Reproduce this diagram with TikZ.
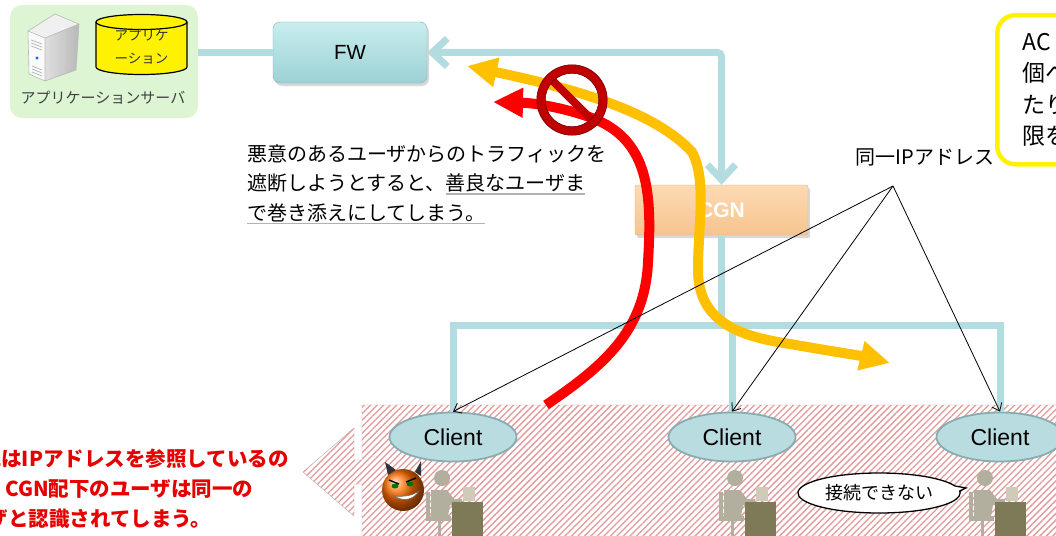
\documentclass[tikz,border=0pt]{standalone}
\usepackage{fontspec}
\setmainfont{Liberation Sans}
\newfontfamily\jp{Noto Sans CJK JP}
\usepackage{tikz}
\usetikzlibrary{arrows.meta, positioning, shapes.geometric, shapes.callouts, shadows, patterns.meta, calc}

% colours
\definecolor{linkblue}{HTML}{B3DCE0}
\definecolor{fwtop}{HTML}{C8EDEF}
\definecolor{fwbot}{HTML}{9CD2D5}
\definecolor{fwline}{HTML}{80B5B8}
\definecolor{cgntop}{HTML}{FCDAB4}
\definecolor{cgnbot}{HTML}{F7C48E}
\definecolor{cgnline}{HTML}{E2B27E}
\definecolor{groupgreen}{HTML}{DDF5D3}
\definecolor{clientfill}{HTML}{B9DCE0}
\definecolor{clientline}{HTML}{88ADB1}
\definecolor{flowred}{HTML}{FF0000}
\definecolor{flowyellow}{HTML}{FFC000}
\definecolor{stopred}{HTML}{C00000}
\definecolor{warnred}{HTML}{E60000}
\definecolor{hatchred}{HTML}{E39A9A}
\definecolor{hatchline}{HTML}{C9A5A5}
\definecolor{figgray}{HTML}{B2AF9E}
\definecolor{deskolive}{HTML}{7E7957}
\definecolor{screengray}{HTML}{CFCBB8}

% gray underline used in the note
\newcommand{\grayul}[1]{\setbox0\hbox{#1}\rlap{\textcolor{gray!60}{\rule[-4pt]{\wd0}{1.4pt}}}\box0}

\begin{document}
\begin{tikzpicture}[x=1pt, y=-1pt,
  link/.style = {line width=7pt, draw=linkblue},
  linktip/.tip = {Straight Barb[length=15pt, width=28pt]},
  appgroup/.style = {rectangle, rounded corners=12pt, fill=groupgreen, minimum width=188pt, minimum height=113pt},
  fwbox/.style = {rectangle, rounded corners=7pt, draw=fwline, top color=fwtop, bottom color=fwbot,
    minimum width=154pt, minimum height=61pt, font=\fontsize{20.5}{20.5}\selectfont,
    drop shadow={shadow xshift=2pt, shadow yshift=-3pt, opacity=0.3}},
  cgnbox/.style = {rectangle, rounded corners=2pt, draw=cgnline, top color=cgntop, bottom color=cgnbot,
    minimum width=173pt, minimum height=50pt, text=white, font=\bfseries\fontsize{21}{21}\selectfont,
    drop shadow={shadow xshift=2pt, shadow yshift=-3pt, opacity=0.3}},
  client/.style = {ellipse, draw=clientline, line width=1.8pt, fill=clientfill,
    minimum width=127pt, minimum height=49pt, font=\fontsize{23}{23}\selectfont},
  flow/.style = {line width=10pt},
  flowtip/.tip = {Triangle[length=30pt, width=28pt]},
  pointer/.style = {line width=0.8pt, -{Straight Barb[length=7pt, width=11pt]}},
  note/.style = {font=\jp\fontsize{20}{29.5}\selectfont, align=left, inner sep=0pt},
  warn/.style = {font=\jp\bfseries\fontsize{20.5}{30}\selectfont, text=warnred, align=left, inner sep=0pt},
  pics/worker/.style = {code={
    \fill[figgray] (0,0) circle (8);
    \fill[figgray] (-11,12) -- (5,12) -- (12,21) -- (20,21) -- (20,27) -- (8,27) -- (6,38) -- (-11,38) -- cycle;
    \fill[figgray] (-16,14) rectangle (-12,43);
    \fill[figgray] (-14,38) rectangle (9,43);
    \fill[figgray] (-4,43) rectangle (-1,60);
    \fill[screengray] (21,9) rectangle (33,23);
    \fill[deskolive] (10,24) rectangle (41,60);
  }}
]

% Canvas
\useasboundingbox (0,0) rectangle (1056,535);
\fill[white] (0,0) rectangle (1056,535);

% Hatched client segment with its arrow to the left
\path[pattern={Lines[angle=45, distance=4.6pt, line width=1.3pt]}, pattern color=hatchred, draw=hatchline, thin]
  (362,405) -- (1070,405) -- (1070,545) -- (362,545) -- (362,484) -- (354,484) -- (354,516)
  -- (303,472) -- (354,428) -- (354,460) -- (362,460) -- cycle;

% Application server group
\node[appgroup] (appgrp) at (104,61.5) {};
% server tower
\fill[gray!12] (28,31) -- (45,38) -- (79,24) -- (55,14) -- cycle;
\shade[left color=gray!25, right color=gray!55] (45,38) -- (79,24) -- (76,70) -- (45,81) -- cycle;
\fill[gray!4] (28,31) -- (45,38) -- (45,81) -- (29,74) -- cycle;
\draw[gray!55, line width=0.6pt] (28,31) -- (55,14) -- (79,24) -- (76,70) -- (45,81) -- (29,74) -- cycle
  (28,31) -- (45,38) -- (79,24) (45,38) -- (45,81);
\foreach \v in {40,43,46} \draw[gray!60, line width=0.7pt] (31,\v) -- (42,\v+4);
\foreach \v in {66,69,72} \draw[gray!60, line width=0.7pt] (32,\v) -- (42,\v+4);
\fill[blue!60!cyan] (37,58) circle (1.6);
% database
\fill[yellow] (96,22) rectangle (187,67);
\fill[yellow] (141.5,67) ellipse [x radius=45.5, y radius=7.5];
\draw[line width=1.2pt] (96,22) -- (96,67) arc[start angle=180, end angle=0, x radius=45.5, y radius=7.5] -- (187,22);
\draw[line width=1.2pt, fill=yellow] (141.5,22) ellipse [x radius=45.5, y radius=7.5];
\node[font=\jp\fontsize{13.5}{23}\selectfont, align=center, text=black!80] (appdb) at (141.5,47) {アプリケ\\ーション};
\node[font=\jp\fontsize{15}{15}\selectfont, text=black!75] (appname) at (103,98) {アプリケーションサーバ};

% Firewall and CGN
\node[fwbox] (fw) at (350,52.5) {FW};
\node[cgnbox] (cgn) at (721.5,210) {CGN};

% Links
\draw[link] (appgrp.east |- fw.west) -- (fw.west);
\draw[link, rounded corners=4pt, linktip-linktip] (fw.east) -| (cgn.north);

% Clients
\node[client] (c1) at (453,437) {Client};
\node[client] (c2) at (732,437) {Client};
\node[client] (c3) at (1000,437) {Client};

% LAN bus below the CGN
\coordinate (bus) at (0,325);
\draw[link] (cgn.south) -- (cgn.south |- bus);
\draw[link] (c1.north) -- (c1.north |- bus) -- (c3.north |- bus) -- (c3.north);
\draw[link] (c2.north) -- (c2.north |- bus);

% Users at their desks
\pic at (442,478) {worker};
\pic at (735,478) {worker};
\pic at (985,478) {worker};

% Malicious user
\node[circle, inner sep=0pt, minimum size=42pt, ball color=orange!85!red] (devil) at (403,490) {};
\fill[gray!40!black] (388,475) -- (385,462) -- (396,470) -- cycle;
\fill[gray!40!black] (415,472) -- (421,461) -- (421,476) -- cycle;
\fill[green!45!black] (395,486) ellipse [x radius=3.5, y radius=2.5];
\fill[green!45!black] (410,484) ellipse [x radius=3.5, y radius=2.5];
\draw[line width=1.4pt] (389,480) -- (399,484) (416,478) -- (406,482);
\fill[white, draw=black!60, line width=0.5pt] (394,496) .. controls (404,502) and (413,500) .. (419,491)
  .. controls (412,496) and (403,497) .. (394,496) -- cycle;

% Speech bubble of the third user
\node[ellipse callout, draw, line width=1.3pt, fill=white, minimum width=150pt, minimum height=40pt,
  callout absolute pointer={(966,488)}, font=\jp\fontsize{18}{18}\selectfont] (bubble) at (879,493) {接続できない};

% Notes
\node[note, anchor=north west] (note) at (247,144)
  {悪意のあるユーザからのトラフィックを\\遮断しようとすると、\grayul{善良なユーザま}\\\grayul{で巻き添えにしてしまう。}};
\node[warn, anchor=north west] (warn) at (-38,449)
  {ACLはIPアドレスを参照しているの\\\hspace*{3pt}で、CGN配下のユーザは同一の\\\hspace*{-15pt}ユーザと認識されてしまう。};

% Traffic flows
\draw[flow, flowyellow, flowtip-flowtip] (467,66) .. controls (580,90) and (655,112) .. (692,152)
  .. controls (707,180) and (698,225) .. (698,270) .. controls (698,325) and (745,337) .. (790,344)
  .. controls (830,351) and (862,356) .. (890,363);
\draw[flow, flowred, -flowtip] (546,405) .. controls (605,365) and (645,330) .. (648,262)
  .. controls (652,195) and (650,140) .. (592,118) .. controls (565,108) and (535,103) .. (493,102);

% Same address seen for every client
\node[font=\jp\fontsize{20}{20}\selectfont] (sameip) at (925,157) {同一IPアドレス};
\coordinate (apex) at (893,186);
\foreach \c in {c1,c2,c3}
  \draw[pointer] (apex) -- (\c.north);

% Blocked sign
\coordinate (stop) at (572,100);
\draw[line width=8.5pt, stopred] (stop) circle (31);
\draw[line width=8pt, stopred] ($(stop)+(45:28)$) -- ($(stop)+(225:28)$);
\draw[line width=0.6pt, red!45!black] (stop) circle (35.2) (stop) circle (26.8);

% ACL note box
\node[draw=yellow, line width=4.5pt, rounded corners=18pt, fill=white, anchor=north west,
  minimum height=149pt, inner xsep=25pt, align=left, font=\jp\fontsize{23}{31.5}\selectfont] (acl) at (995,13)
  {AC\\個へ\\たり\\限を};

\end{tikzpicture}
\end{document}
